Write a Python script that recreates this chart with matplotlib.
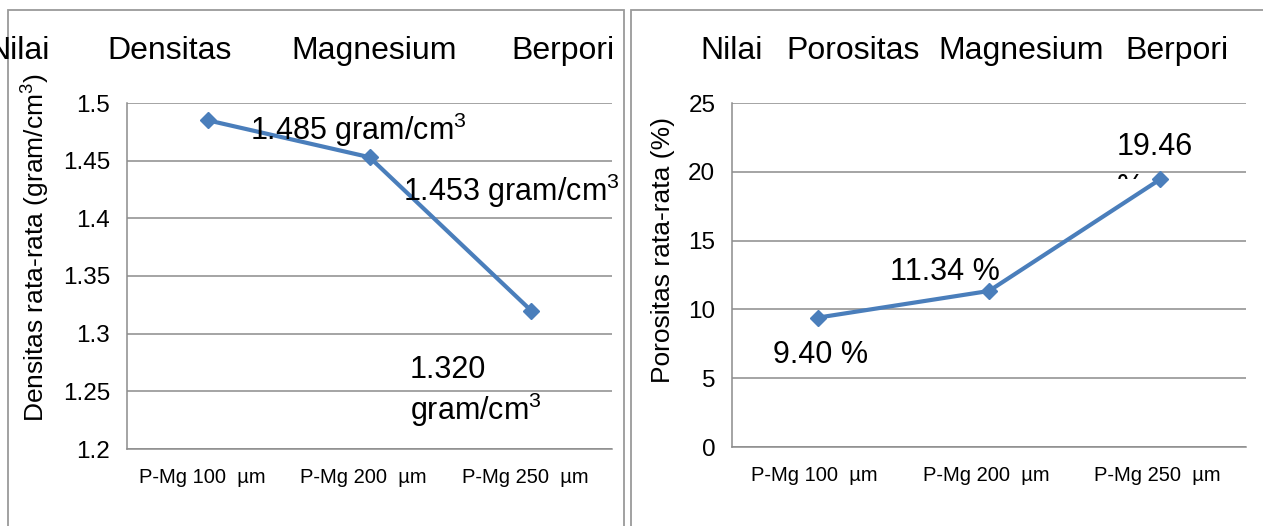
import matplotlib
matplotlib.use("Agg")
import matplotlib.pyplot as plt
from matplotlib.patches import Rectangle
from matplotlib.transforms import ScaledTranslation, Bbox, TransformedBbox

plt.rcParams['font.family'] = ['Liberation Sans', 'DejaVu Sans']
plt.rcParams['mathtext.default'] = 'regular'

# ---- data ----
categories = ["P-Mg 100  µm", "P-Mg 200  µm", "P-Mg 250  µm"]
density = [1.485, 1.453, 1.320]
density_labels = ["1.485 gram/cm$^3$", "1.453 gram/cm$^3$", "1.320", "gram/cm$^3$"]
porosity = [9.40, 11.34, 19.46]
porosity_labels = ["9.40 %", "11.34 %", "19.46", "%"]
density_ticks = [1.2, 1.25, 1.3, 1.35, 1.4, 1.45, 1.5]
density_tick_labels = ["1.2", "1.25", "1.3", "1.35", "1.4", "1.45", "1.5"]
porosity_ticks = [0, 5, 10, 15, 20, 25]
porosity_tick_labels = ["0", "5", "10", "15", "20", "25"]
left_title_words = ["Nilai", "Densitas", "Magnesium", "Berpori"]
right_title_words = ["Nilai", "Porositas", "Magnesium", "Berpori"]

W, H = 1263, 526
fig = plt.figure(figsize=(W / 100, H / 100), dpi=100)

def fx(px):
    return px / W

def fy(py):
    return 1 - py / H

LINE = '#4A7EBB'
GRID = '#8C8C8C'
ANN = 22

# panel borders
fig.patches.append(Rectangle((fx(8), fy(560)), fx(624) - fx(8), fy(10) - fy(560),
                             transform=fig.transFigure, fill=False, ec='#9A9A9A', lw=1.3))
fig.patches.append(Rectangle((fx(631), fy(560)), fx(1300) - fx(631), fy(10) - fy(560),
                             transform=fig.transFigure, fill=False, ec='#9A9A9A', lw=1.3))

def setup(ax, ticks, ticklabels, ylim, xshift):
    x = list(range(len(categories)))
    ax.set_xlim(-0.5, len(categories) - 0.5)
    ax.set_ylim(*ylim)
    ax.set_yticks(ticks)
    ax.set_yticklabels(ticklabels, fontsize=17.5)
    ax.set_xticks(x)
    ax.set_xticklabels(categories, fontsize=14.5)
    ax.tick_params(axis='y', length=0, pad=12)
    ax.tick_params(axis='x', length=0, pad=14)
    for lbl in ax.get_xticklabels():
        lbl.set_transform(lbl.get_transform() + ScaledTranslation(xshift / 100, 0, fig.dpi_scale_trans))
    ax.grid(axis='y', color=GRID, lw=1.1)
    ax.set_axisbelow(True)
    for s in ['top', 'right']:
        ax.spines[s].set_visible(False)
    for s in ['left', 'bottom']:
        ax.spines[s].set_color(GRID)
        ax.spines[s].set_linewidth(1.1)
    return x

# ---- left chart ----
axL = fig.add_axes([fx(127), fy(449), fx(612) - fx(127), fy(103) - fy(449)])
xL = setup(axL, density_ticks, density_tick_labels, (1.2, 1.5), -6)
axL.plot(xL, density, color=LINE, lw=3, marker='D', markersize=8.5,
         markerfacecolor=LINE, markeredgecolor=LINE, clip_on=False, zorder=3)
axL.set_ylabel("Densitas rata-rata (gram/cm$^3$)", fontsize=19)
axL.text(0.261, 1.4766, density_labels[0], fontsize=ANN, ha='left', va='center')
axL.text(1.207, 1.4237, density_labels[1], fontsize=ANN, ha='left', va='center')
axL.text(1.25, 1.2685, density_labels[2], fontsize=ANN, ha='left', va='center')
axL.text(1.25, 1.2338, density_labels[3], fontsize=ANN, ha='left', va='center')

# ---- right chart ----
axR = fig.add_axes([fx(732), fy(447), fx(1246) - fx(732), fy(103) - fy(447)])
xR = setup(axR, porosity_ticks, porosity_tick_labels, (0, 25), -3)
axR.plot(xR, porosity, color=LINE, lw=3, marker='D', markersize=8.5,
         markerfacecolor=LINE, markeredgecolor=LINE, clip_on=False, zorder=3)
axR.set_ylabel("Porositas rata-rata (%)", fontsize=19)
axR.text(0.422, 12.72, porosity_labels[1], fontsize=ANN, ha='left', va='center')
axR.text(-0.261, 6.69, porosity_labels[0], fontsize=ANN, ha='left', va='center')
axR.text(1.747, 21.8, porosity_labels[2], fontsize=ANN, ha='left', va='center')
pct = axR.text(1.747, 18.8, porosity_labels[3], fontsize=ANN, ha='left', va='center',
               zorder=1)
pct.set_clip_on(True)
pct.set_clip_box(TransformedBbox(Bbox([[1.5, 19.45], [2.5, 30]]), axR.transData))

# y-label positions
axL.yaxis.set_label_coords(fx(52), 0.5 * (fy(68) + fy(427)), transform=fig.transFigure)
axR.yaxis.set_label_coords(fx(675), 0.5 * (fy(117) + fy(383)), transform=fig.transFigure)

# titles (justified words)
ty = fy(51)
fig.text(fx(50), ty, left_title_words[0], fontsize=23, ha='right', va='center')
fig.text(fx(107), ty, left_title_words[1], fontsize=23, ha='left', va='center')
fig.text(fx(291), ty, left_title_words[2], fontsize=23, ha='left', va='center')
fig.text(fx(615), ty, left_title_words[3], fontsize=23, ha='right', va='center')

fig.text(fx(700), ty, right_title_words[0], fontsize=23, ha='left', va='center')
fig.text(fx(786), ty, right_title_words[1], fontsize=23, ha='left', va='center')
fig.text(fx(938), ty, right_title_words[2], fontsize=23, ha='left', va='center')
fig.text(fx(1228), ty, right_title_words[3], fontsize=23, ha='right', va='center')

fig.savefig("out.png", dpi=100)
